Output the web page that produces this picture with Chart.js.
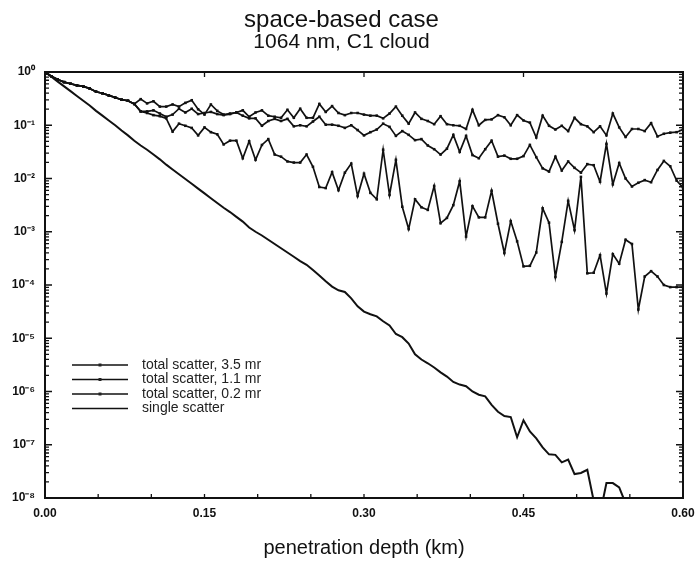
<!DOCTYPE html>
<html>
<head>
<meta charset="utf-8">
<title>space-based case</title>
<script src="https://cdn.jsdelivr.net/npm/chart.js@4.4.1/dist/chart.umd.min.js"></script>
<style>
  html, body { margin: 0; padding: 0; background: #fff; }
  #wrap { width: 695px; height: 567px; }
</style>
</head>
<body>
<div id="wrap"><canvas id="chart" width="695" height="567"></canvas></div>
<script>
/* penetration depth (km) */
const depth = [
  0, 0.006, 0.012, 0.018, 0.024, 0.03, 0.036, 0.042, 0.048, 0.054,
  0.06, 0.066, 0.072, 0.078, 0.084, 0.09, 0.096, 0.102, 0.108, 0.114,
  0.12, 0.126, 0.132, 0.138, 0.144, 0.15, 0.156, 0.162, 0.168, 0.174,
  0.18, 0.186, 0.192, 0.198, 0.204, 0.21, 0.216, 0.222, 0.228, 0.234,
  0.24, 0.246, 0.252, 0.258, 0.264, 0.27, 0.276, 0.282, 0.288, 0.294,
  0.3, 0.306, 0.312, 0.318, 0.324, 0.33, 0.336, 0.342, 0.348, 0.354,
  0.36, 0.366, 0.372, 0.378, 0.384, 0.39, 0.396, 0.402, 0.408, 0.414,
  0.42, 0.426, 0.432, 0.438, 0.444, 0.45, 0.456, 0.462, 0.468, 0.474,
  0.48, 0.486, 0.492, 0.498, 0.504, 0.51, 0.516, 0.522, 0.528, 0.534,
  0.54, 0.546, 0.552, 0.558, 0.564, 0.57, 0.576, 0.582, 0.588, 0.594,
  0.6
];

// values are log10 of the signal
const total35 = [
  0, -0.08, -0.14, -0.19, -0.22, -0.25, -0.27, -0.31, -0.37, -0.40,
  -0.44, -0.48, -0.52, -0.54, -0.60, -0.51, -0.59, -0.55, -0.65, -0.65,
  -0.61, -0.65, -0.58, -0.53, -0.70, -0.80, -0.61, -0.73, -0.80, -0.78,
  -0.76, -0.72, -0.84, -0.76, -0.72, -0.82, -0.84, -0.86, -0.71, -0.86,
  -0.69, -0.86, -0.86, -0.60, -0.75, -0.64, -0.77, -0.81, -0.77, -0.77,
  -0.80, -0.82, -0.82, -0.87, -0.78, -0.65, -0.82, -0.97, -0.76, -0.88,
  -0.92, -0.98, -0.83, -0.98, -1.00, -1.01, -1.07, -0.71, -1.00, -0.90,
  -0.89, -0.81, -0.85, -1.00, -0.81, -0.91, -0.95, -1.23, -0.82, -1.01,
  -1.08, -1.01, -1.11, -0.86, -0.98, -1.02, -1.13, -1.02, -1.19, -0.78,
  -1.04, -1.22, -1.07, -1.07, -1.11, -0.96, -1.21, -1.16, -1.14, -1.13,
  -1.08
];
const total11 = [
  0, -0.08, -0.14, -0.19, -0.22, -0.25, -0.27, -0.31, -0.37, -0.40,
  -0.44, -0.48, -0.52, -0.54, -0.60, -0.74, -0.74, -0.72, -0.78, -0.84,
  -0.80, -0.69, -0.76, -0.69, -0.79, -0.77, -0.75, -0.79, -0.81, -0.79,
  -0.76, -0.82, -0.87, -0.87, -1.01, -0.92, -0.88, -0.92, -0.88, -1.02,
  -1.00, -1.02, -0.93, -0.84, -0.99, -0.99, -1.01, -1.05, -1.00, -1.09,
  -1.19, -1.13, -1.08, -0.97, -1.03, -1.20, -1.11, -1.18, -1.28, -1.26,
  -1.38, -1.45, -1.55, -1.44, -1.18, -1.50, -1.20, -1.56, -1.62, -1.45,
  -1.29, -1.59, -1.57, -1.63, -1.63, -1.58, -1.37, -1.60, -1.81, -1.87,
  -1.59, -1.85, -1.68, -1.80, -1.89, -1.73, -1.75, -2.06, -1.35, -2.11,
  -1.71, -2.00, -2.15, -2.08, -2.03, -2.07, -1.84, -1.67, -1.77, -2.04,
  -2.17
];
const total02 = [
  0, -0.08, -0.14, -0.19, -0.22, -0.25, -0.27, -0.31, -0.37, -0.40,
  -0.44, -0.48, -0.52, -0.54, -0.60, -0.74, -0.77, -0.81, -0.83, -0.87,
  -1.12, -0.97, -1.01, -1.05, -1.19, -1.04, -1.13, -1.17, -1.36, -1.29,
  -1.29, -1.62, -1.30, -1.65, -1.37, -1.26, -1.55, -1.59, -1.68, -1.70,
  -1.70, -1.55, -1.78, -2.16, -2.18, -1.88, -2.22, -1.89, -1.72, -2.33,
  -1.91, -2.27, -2.39, -1.46, -2.31, -1.65, -2.53, -2.95, -2.39, -2.54,
  -2.59, -2.14, -2.84, -2.74, -2.50, -2.05, -3.09, -2.52, -2.73, -2.73,
  -2.23, -2.85, -3.40, -2.80, -3.18, -3.65, -3.64, -3.39, -2.56, -2.83,
  -3.85, -3.19, -2.42, -2.97, -1.97, -3.78, -3.77, -3.44, -4.16, -3.42,
  -3.60, -3.15, -3.23, -4.46, -3.84, -3.74, -3.84, -4.00, -4.04, -4.04,
  -4.04
];
const single = [
  0, -0.09, -0.18, -0.27, -0.36, -0.45, -0.54, -0.63, -0.73, -0.82,
  -0.91, -1.00, -1.10, -1.19, -1.29, -1.38, -1.46, -1.55, -1.64, -1.74,
  -1.83, -1.92, -2.01, -2.10, -2.19, -2.28, -2.37, -2.46, -2.55, -2.63,
  -2.72, -2.81, -2.92, -3.00, -3.07, -3.15, -3.23, -3.31, -3.39, -3.47,
  -3.55, -3.62, -3.72, -3.82, -3.93, -4.03, -4.10, -4.13, -4.25, -4.40,
  -4.50, -4.55, -4.59, -4.68, -4.76, -4.92, -4.98, -5.10, -5.30, -5.40,
  -5.47, -5.55, -5.64, -5.72, -5.82, -5.87, -5.90, -6.00, -6.06, -6.09,
  -6.25, -6.38, -6.46, -6.48, -6.86, -6.54, -6.75, -6.88, -7.05, -7.18,
  -7.19, -7.33, -7.28, -7.55, -7.53, -7.47, -8.05, -8.30, -7.72, -7.72,
  -7.80, -8.10, null, null, null, null, null, null, null, null,
  null
];

const seriesNames = ['total scatter, 3.5 mr', 'total scatter, 1.1 mr', 'total scatter, 0.2 mr', 'single scatter'];

const xTickValues = [0, 0.15, 0.3, 0.45, 0.6];
const xTickLabels = ['0.00', '0.15', '0.30', '0.45', '0.60'];
const xMinorTicks = [0.05, 0.1, 0.15, 0.2, 0.25, 0.3, 0.35, 0.4, 0.45, 0.5, 0.55];
const yTickValues = [1e-8, 1e-7, 1e-6, 1e-5, 1e-4, 1e-3, 1e-2, 1e-1, 1];
const yTickLabels = ['10\u207B\u2078', '10\u207B\u2077', '10\u207B\u2076', '10\u207B\u2075', '10\u207B\u2074',
                     '10\u207B\u00B3', '10\u207B\u00B2', '10\u207B\u00B9', '10\u2070'];

const FONT = '"Liberation Sans", Arial, Helvetica, sans-serif';
const INK = '#111';

function toPoints(logs) {
  return depth.map((d, i) => ({ x: d, y: logs[i] === null ? null : Math.pow(10, logs[i]) }));
}

/* frame + inward ticks on all four sides */
const frameTicks = {
  id: 'frameTicks',
  afterDatasetsDraw(chart) {
    const { ctx, chartArea: a, scales: { x, y } } = chart;
    ctx.save();
    ctx.strokeStyle = INK;
    ctx.lineWidth = 2;
    ctx.strokeRect(a.left, a.top, a.right - a.left, a.bottom - a.top);

    ctx.lineWidth = 1.3;
    ctx.beginPath();
    for (let e = -8; e < 0; e++) {
      for (let m = 1; m < 10; m++) {
        const py = y.getPixelForValue(m * Math.pow(10, e));
        const len = m === 1 ? 7 : 4;
        ctx.moveTo(a.left, py);  ctx.lineTo(a.left + len, py);
        ctx.moveTo(a.right, py); ctx.lineTo(a.right - len, py);
      }
    }
    for (const v of xMinorTicks) {
      const px = x.getPixelForValue(v);
      ctx.moveTo(px, a.bottom); ctx.lineTo(px, a.bottom - 4);
    }
    for (const v of xTickValues) {
      const px = x.getPixelForValue(v);
      ctx.moveTo(px, a.top); ctx.lineTo(px, a.top + 5);
    }
    ctx.stroke();
    ctx.restore();
  }
};

/* legend sitting inside the plot, lower left */
const insideLegend = {
  id: 'insideLegend',
  afterDraw(chart) {
    const { ctx, chartArea: a } = chart;
    ctx.save();
    ctx.font = '14px ' + FONT;
    ctx.fillStyle = '#222';
    ctx.strokeStyle = INK;
    ctx.textBaseline = 'middle';
    seriesNames.forEach((name, i) => {
      const yy = a.bottom - 133 + i * 14.5;
      const x0 = a.left + 27, x1 = a.left + 83;
      ctx.lineWidth = 1.6;
      ctx.beginPath(); ctx.moveTo(x0, yy); ctx.lineTo(x1, yy); ctx.stroke();
      if (i < 3) ctx.fillRect((x0 + x1) / 2 - 1.5, yy - 1.5, 3, 3);
      ctx.fillText(name, a.left + 97, yy);
    });
    ctx.restore();
  }
};

const markerSet = {
  borderColor: INK, backgroundColor: INK,
  borderWidth: 1.7, pointStyle: 'rect', pointRadius: 1.8,
  pointBackgroundColor: INK, pointBorderWidth: 0, tension: 0
};

new Chart(document.getElementById('chart'), {
  type: 'line',
  data: {
    datasets: [
      { label: seriesNames[0], data: toPoints(total35), ...markerSet },
      { label: seriesNames[1], data: toPoints(total11), ...markerSet },
      { label: seriesNames[2], data: toPoints(total02), ...markerSet },
      { label: seriesNames[3], data: toPoints(single), borderColor: INK, borderWidth: 2,
        pointRadius: 0, tension: 0 }
    ]
  },
  options: {
    responsive: false,
    animation: false,
    layout: { padding: { left: 0, right: 12, top: 0, bottom: 0 } },
    plugins: {
      legend: { display: false },
      tooltip: { enabled: false },
      title: {
        display: true, text: 'space-based case', color: INK,
        font: { family: FONT, size: 24, weight: 'normal', lineHeight: 1.0 },
        padding: { top: 8, bottom: 0 }
      },
      subtitle: {
        display: true, text: '1064 nm, C1 cloud', color: INK,
        font: { family: FONT, size: 21, weight: 'normal', lineHeight: 1.0 },
        padding: { top: 0, bottom: 19 }
      }
    },
    scales: {
      x: {
        type: 'linear', min: 0, max: 0.6,
        grid: { display: false, drawTicks: false },
        border: { display: false },
        afterBuildTicks: (s) => { s.ticks = xTickValues.map(v => ({ value: v })); },
        afterFit: (s) => { s.height = 69; s.paddingLeft = 0; s.paddingRight = 0; },
        ticks: {
          autoSkip: false, maxRotation: 0, padding: 8, color: INK,
          font: { family: FONT, size: 12, weight: 'bold' },
          callback: (v, i) => xTickLabels[i]
        },
        title: {
          display: true, text: 'penetration depth (km)', color: INK,
          font: { family: FONT, size: 20, weight: 'normal', lineHeight: 1.2 },
          padding: { top: 0, bottom: 7 }
        }
      },
      y: {
        type: 'logarithmic', min: 1e-8, max: 1,
        grid: { display: false, drawTicks: false },
        border: { display: false },
        afterBuildTicks: (s) => { s.ticks = yTickValues.map(v => ({ value: v })); },
        afterFit: (s) => { s.width = 45; },
        ticks: {
          autoSkip: false, padding: 10, color: INK,
          font: { family: FONT, size: 12, weight: 'bold' },
          callback: (v, i) => yTickLabels[i]
        }
      }
    }
  },
  plugins: [frameTicks, insideLegend]
});
</script>
</body>
</html>
